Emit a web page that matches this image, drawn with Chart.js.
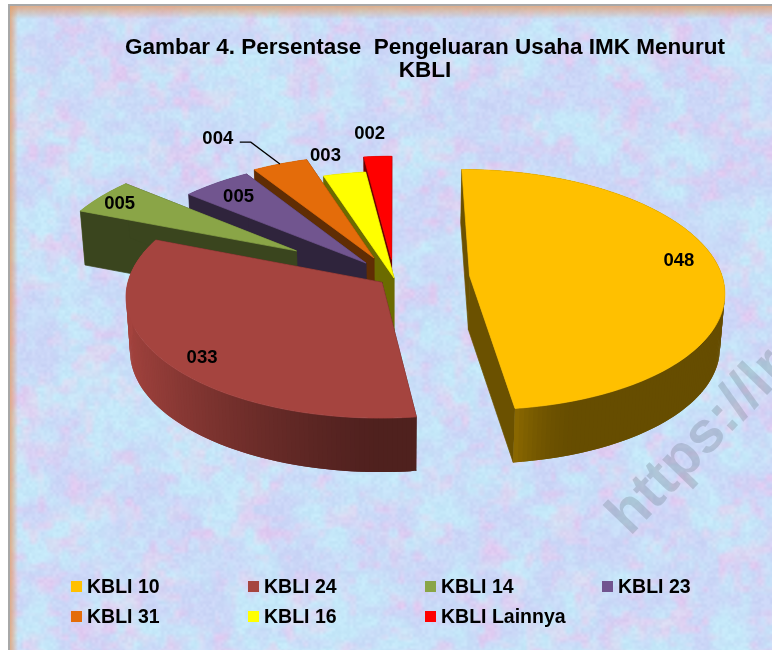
<!DOCTYPE html>
<html>
<head>
<meta charset="utf-8">
<title>Gambar 4</title>
<script src="https://cdn.jsdelivr.net/npm/chart.js@4/dist/chart.umd.min.js"></script>
<style>
    html, body { margin: 0; padding: 0; background: #fff; }
    canvas { display: block; }
</style>
</head>
<body>
<canvas id="myChart" width="772" height="650"></canvas>
<script>
// data
const categories = ["KBLI 10", "KBLI 24", "KBLI 14", "KBLI 23", "KBLI 31", "KBLI 16", "KBLI Lainnya"];
const shares = [48, 33, 5, 5, 4, 3, 2];
const titleLines = ["Gambar 4. Persentase  Pengeluaran Usaha IMK Menurut", "KBLI"];

// slice styles
const topColors = ["#ffc000", "#a5443f", "#8aa547", "#71558f", "#e46c0a", "#ffff00", "#ff0000"];
const explode = [0.30, 0.06, 0.46, 0.17, 0.19, 0, 0.16];
const labelRadius = [0.86, 0.87, 0.90, 0.84, 1.40, 1.22, 1.27];
const labelTurn = [-6, -3, 0, 0, -6, -2, -1];

// how the flat pie is laid back in 3D
const view = { cx: 394, cy: 278, rx: 253, ry: 119, persp: 0.115, depth: 54, foot: 0.985 };

function project(u, v, low) {
    const s = 1 / (1 - view.persp * v);
    let x = view.cx + view.rx * u * s;
    let y = view.cy + view.ry * v * s;
    if (low) {
        x = view.cx + (x - view.cx) * view.foot;
        y += view.depth;
    }
    return [x, y];
}

function shadeColor(hex, f) {
    const n = parseInt(hex.slice(1), 16);
    const r = Math.round((n >> 16 & 255) * f);
    const g = Math.round((n >> 8 & 255) * f);
    const b = Math.round((n & 255) * f);
    return "rgb(" + r + "," + g + "," + b + ")";
}

// outer wall: lit from the left, dark towards the viewer
function wallShade(a) {
    if (a >= 1.44) return 0.48 + 0.52 * Math.pow(Math.max(0, -Math.cos(a)), 1.3);
    const nearFront = Math.min(1, Math.max(0, (a - 1.2) / 0.24));
    return 0.4 + 0.15 * nearFront * nearFront;
}

function quad(ctx, pts, color, outline) {
    ctx.fillStyle = color;
    ctx.beginPath();
    pts.forEach((p, i) => i ? ctx.lineTo(p[0], p[1]) : ctx.moveTo(p[0], p[1]));
    ctx.closePath();
    ctx.fill();
    if (outline) {
        ctx.strokeStyle = color;
        ctx.lineWidth = 0.7;
        ctx.stroke();
    }
}

function drawSlice(ctx, el, i) {
    const a0 = el.startAngle, a1 = el.endAngle, mid = (a0 + a1) / 2;
    const ox = Math.cos(mid) * explode[i], oy = Math.sin(mid) * explode[i];
    const rim = [];
    const steps = Math.max(4, Math.ceil((a1 - a0) * 60));
    for (let k = 0; k <= steps; k++) {
        const a = a0 + (a1 - a0) * k / steps;
        rim.push([ox + Math.cos(a), oy + Math.sin(a), a]);
    }
    const flat = shadeColor(topColors[i], 0.42);
    // each strip runs one step under the next so no seams show
    const strip = (test) => {
        for (let k = 0; k < steps; k++) {
            const p = rim[k], q = rim[Math.min(k + 2, steps)];
            if (!test(p)) continue;
            quad(ctx, [project(p[0], p[1]), project(q[0], q[1]), project(q[0], q[1], true), project(p[0], p[1], true)],
                shadeColor(topColors[i], wallShade(p[2])));
        }
    };
    strip(p => Math.sin(p[2]) < 0);
    [rim[0], rim[steps]].forEach(p => {
        quad(ctx, [project(ox, oy), project(p[0], p[1]), project(p[0], p[1], true), project(ox, oy, true)], flat, true);
    });
    strip(p => Math.sin(p[2]) >= 0);
    quad(ctx, [project(ox, oy)].concat(rim.map(p => project(p[0], p[1]))), topColors[i], true);
}

function drawLabels(ctx, arcs) {
    ctx.font = "bold 18.5px 'Liberation Sans', Arial, sans-serif";
    ctx.textAlign = "center";
    ctx.textBaseline = "middle";
    ctx.fillStyle = "#000";
    arcs.forEach((el, i) => {
        const mid = (el.startAngle + el.endAngle) / 2;
        const ox = Math.cos(mid) * explode[i], oy = Math.sin(mid) * explode[i];
        const a = mid + labelTurn[i] * Math.PI / 180;
        const p = project(ox + Math.cos(a) * labelRadius[i], oy + Math.sin(a) * labelRadius[i]);
        ctx.fillText(String(shares[i]).padStart(3, "0"), p[0], p[1] + 2);
        if (i === 4) {
            // leader line of the only label pulled away from its slice
            const end = project(ox + Math.cos(mid), oy + Math.sin(mid));
            ctx.strokeStyle = "#000";
            ctx.lineWidth = 1.3;
            ctx.beginPath();
            ctx.moveTo(p[0] + 22, p[1] + 5);
            ctx.lineTo(p[0] + 33, p[1] + 5);
            ctx.lineTo(end[0], end[1]);
            ctx.stroke();
        }
    });
}

const pie3d = {
    id: "pie3d",
    beforeDatasetDraw(chart) {
        const ctx = chart.ctx;
        const arcs = chart.getDatasetMeta(0).data;
        ctx.save();
        for (let i = arcs.length - 1; i >= 0; i--) drawSlice(ctx, arcs[i], i);
        drawLabels(ctx, arcs);
        ctx.restore();
        return false;
    }
};

// two rows of four, on even columns
const gridLegend = {
    id: "gridLegend",
    afterDraw(chart) {
        const ctx = chart.ctx;
        ctx.save();
        ctx.font = "bold 19.5px 'Liberation Sans', Arial, sans-serif";
        ctx.textBaseline = "middle";
        ctx.textAlign = "left";
        chart.data.labels.forEach((name, i) => {
            const x = 71 + 177 * (i % 4);
            const y = 587 + 30 * Math.floor(i / 4);
            ctx.fillStyle = topColors[i];
            ctx.fillRect(x, y - 6, 11, 11);
            ctx.fillStyle = "#000";
            ctx.fillText(name, x + 16, y + 1);
        });
        ctx.restore();
    }
};

// mottled paper behind the chart (only the backdrop, no chart value comes from here)
function hash(x, y, seed) {
    const h = Math.sin(x * 127.1 + y * 311.7 + seed * 74.7) * 43758.5453;
    return h - Math.floor(h);
}
function noise(x, y, cell, seed) {
    const gx = Math.floor(x / cell), gy = Math.floor(y / cell);
    let fx = x / cell - gx, fy = y / cell - gy;
    fx = fx * fx * (3 - 2 * fx);
    fy = fy * fy * (3 - 2 * fy);
    const a = hash(gx, gy, seed), b = hash(gx + 1, gy, seed);
    const c = hash(gx, gy + 1, seed), d = hash(gx + 1, gy + 1, seed);
    return (a + (b - a) * fx) * (1 - fy) + (c + (d - c) * fx) * fy;
}
function makePaper(w, h) {
    const cv = document.createElement("canvas");
    cv.width = w;
    cv.height = h;
    const c = cv.getContext("2d");
    const img = c.createImageData(w, h);
    for (let y = 0; y < h; y++) {
        for (let x = 0; x < w; x++) {
            const big = noise(x, y, 30, 1) * 0.55 + noise(x, y, 11, 2) * 0.45;
            const pink = noise(x, y, 24, 3) * 0.5 + noise(x, y, 8, 4) * 0.5;
            const grain = noise(x, y, 3, 5) - 0.5;
            const cyan = Math.max(0, Math.min(1, (big - 0.3) * 2.4));
            const rose = Math.max(0, Math.min(1, (pink - 0.48) * 3));
            const r = 203 - 6 * cyan + 20 * rose + grain * 10;
            const g = 214 + 18 * cyan - 12 * rose + grain * 10;
            const b = 247 + 2 * cyan - 6 * rose + grain * 6;
            const k = (y * w + x) * 4;
            img.data[k] = r;
            img.data[k + 1] = g;
            img.data[k + 2] = b;
            img.data[k + 3] = 255;
        }
    }
    c.putImageData(img, 0, 0);
    return cv;
}

const paper = {
    id: "paper",
    beforeDraw(chart) {
        const ctx = chart.ctx, w = chart.width, h = chart.height;
        const left = 9, top = 5;
        ctx.save();
        ctx.fillStyle = "#fff";
        ctx.fillRect(0, 0, w, h);
        ctx.drawImage(makePaper(w - left, h - top), left, top);

        let g = ctx.createLinearGradient(left, 0, left + 9, 0);
        g.addColorStop(0, "rgba(226,160,110,0.9)");
        g.addColorStop(1, "rgba(226,160,110,0)");
        ctx.fillStyle = g;
        ctx.fillRect(left, top, 9, h - top);
        g = ctx.createLinearGradient(0, top, 0, top + 14);
        g.addColorStop(0, "rgba(226,160,110,0.85)");
        g.addColorStop(1, "rgba(226,160,110,0)");
        ctx.fillStyle = g;
        ctx.fillRect(left, top, w - left, 14);

        ctx.fillStyle = "#a8a8a8";
        ctx.fillRect(left - 1, top - 1, w - left + 1, 2);
        ctx.fillRect(left - 1, top - 1, 2, h - top + 1);

        // watermark
        ctx.translate(630, 537);
        ctx.rotate(-46 * Math.PI / 180);
        ctx.font = "bold 58px 'Liberation Sans', Arial, sans-serif";
        ctx.textBaseline = "alphabetic";
        ctx.fillStyle = "rgba(110,125,140,0.3)";
        ctx.fillText("https://lr", 0, 0);
        ctx.restore();
    }
};

new Chart(document.getElementById("myChart"), {
    type: "pie",
    data: {
        labels: categories,
        datasets: [{ data: shares, backgroundColor: topColors, borderWidth: 0 }]
    },
    options: {
        responsive: false,
        animation: false,
        events: [],
        layout: { padding: { left: 78, top: 34 } },
        plugins: {
            legend: { display: false },
            tooltip: { enabled: false },
            title: {
                display: true,
                text: titleLines,
                color: "#000",
                padding: { top: 2.5, bottom: 10 },
                font: { family: "'Liberation Sans', Arial, sans-serif", size: 22.5, weight: "bold", lineHeight: 1.03 }
            }
        }
    },
    plugins: [paper, pie3d, gridLegend]
});
</script>
</body>
</html>
